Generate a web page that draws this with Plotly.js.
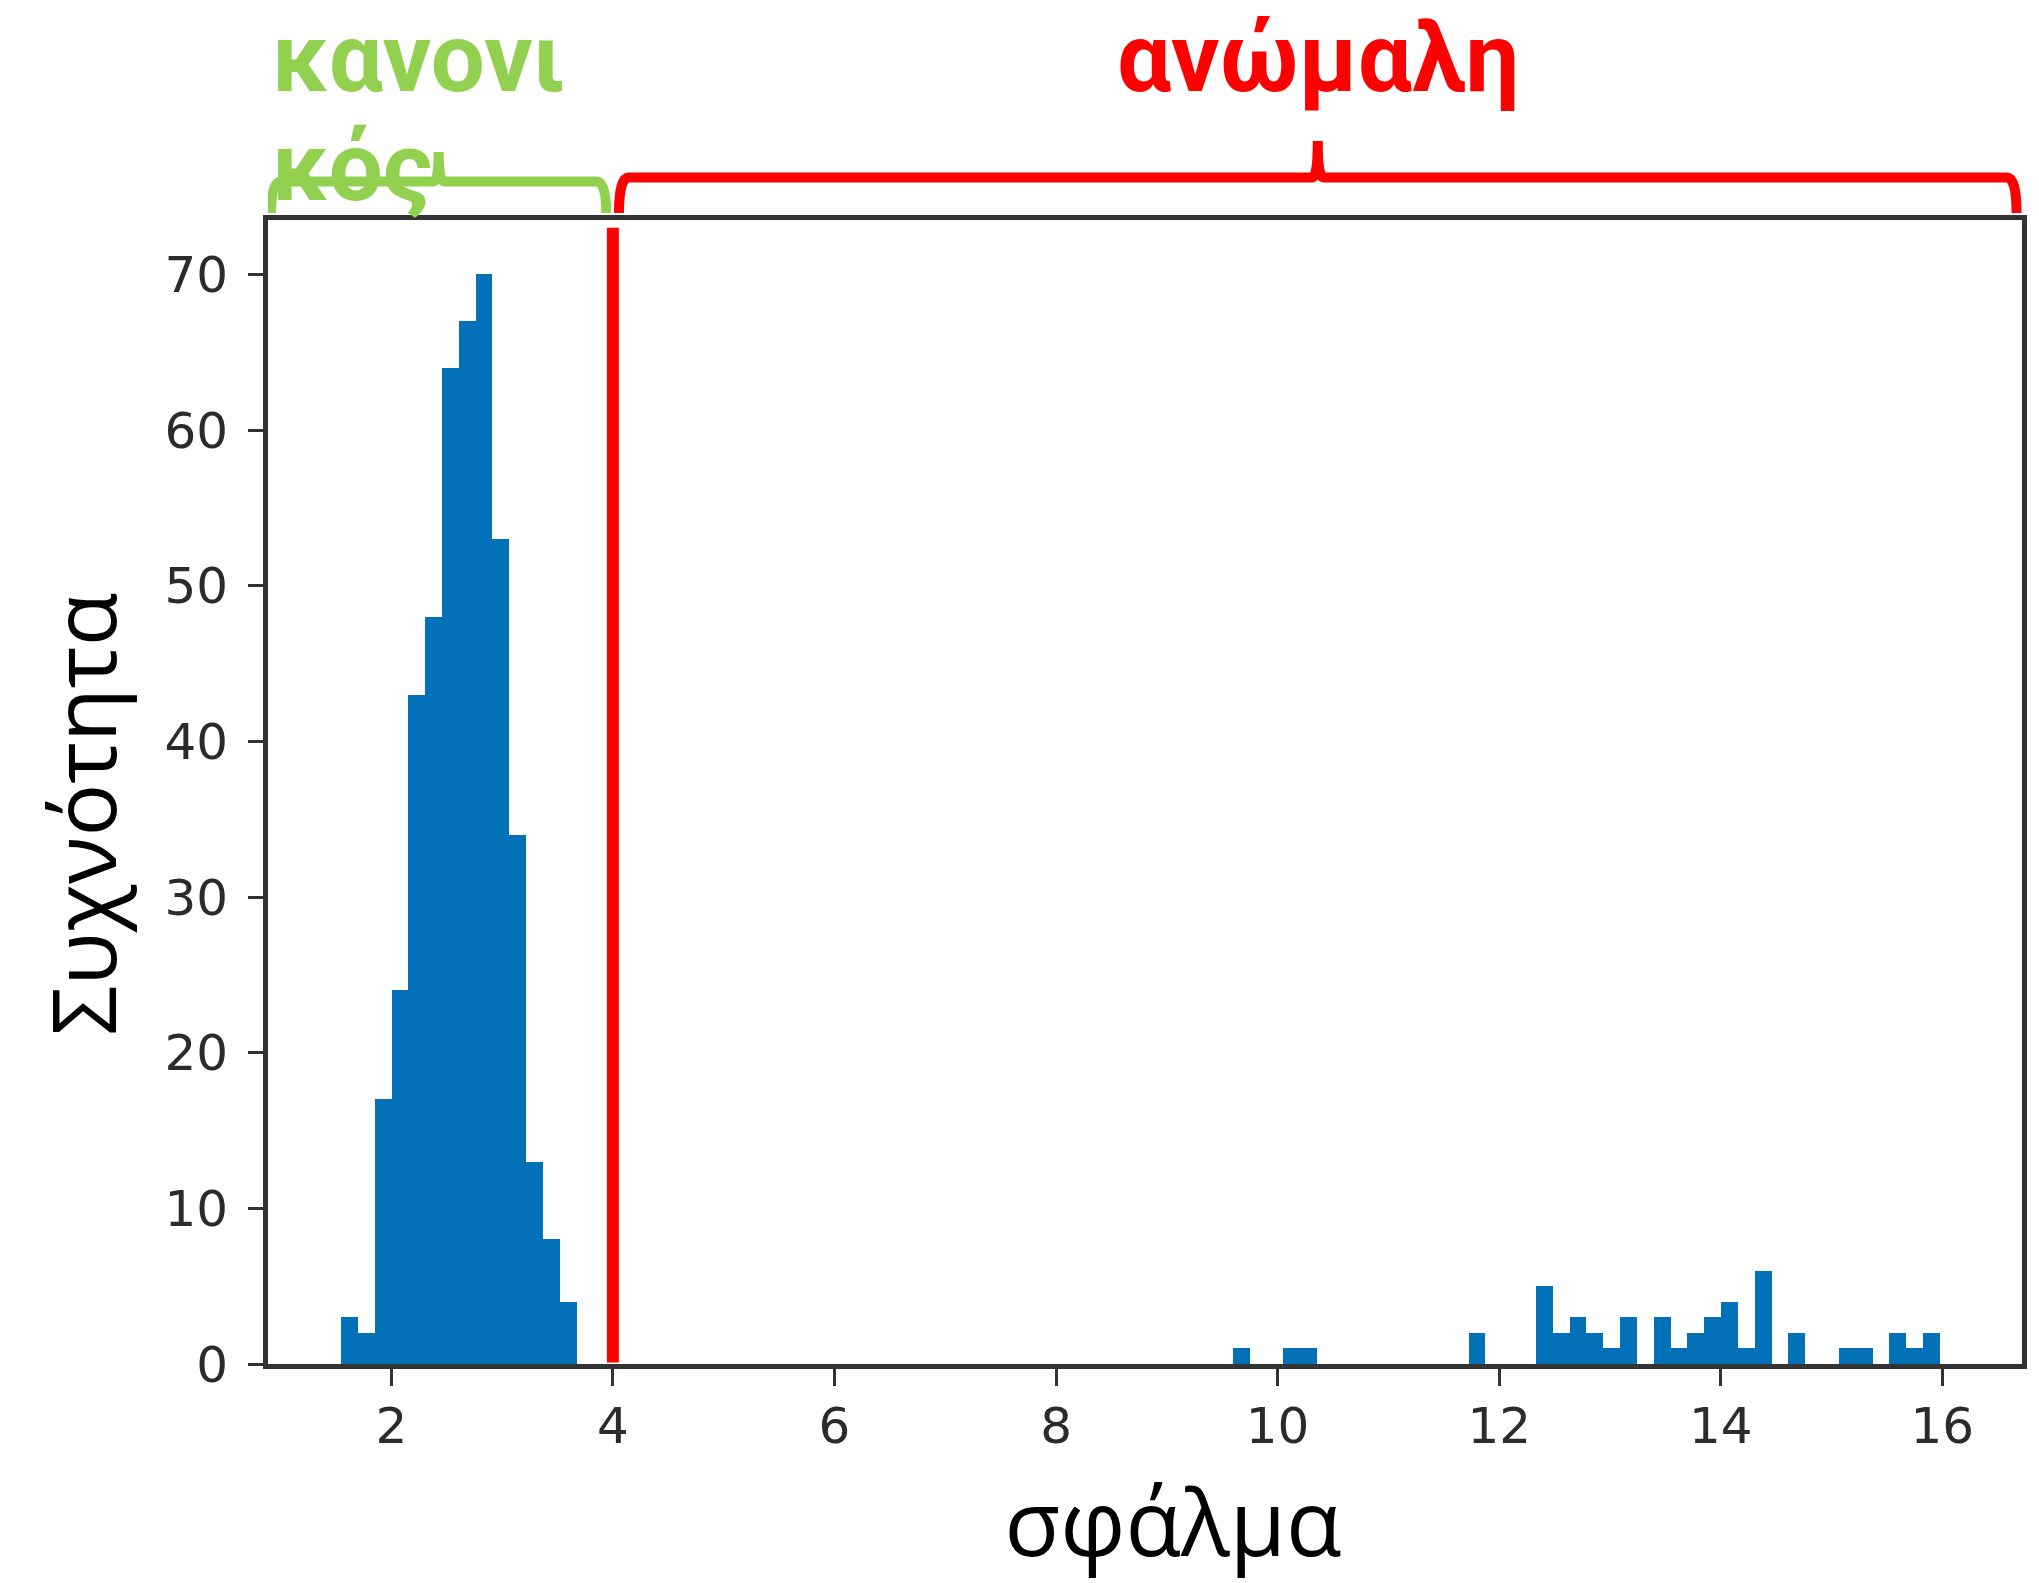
<!DOCTYPE html>
<html>
<head>
<meta charset="utf-8">
<script src="https://cdn.plot.ly/plotly-3.0.1.min.js"></script>
<style>
  html, body { margin: 0; padding: 0; background: #ffffff; }
  #chart { width: 2039px; height: 1583px; }
</style>
</head>
<body>
<div id="chart"></div>
<script>
// ---- data ----
const binStart = 1.546;          // left edge of the first bin
const binWidth = 0.15191;        // width of each bin
const binCounts = [
  3, 2, 17, 24, 43, 48, 64, 67, 70, 53, 34, 13, 8, 4,           // bins 0-13
  0, 0, 0, 0, 0, 0, 0, 0, 0, 0, 0, 0, 0, 0, 0, 0, 0, 0, 0, 0,   // bins 14-33
  0, 0, 0, 0, 0, 0, 0, 0, 0, 0, 0, 0, 0, 0, 0, 0, 0, 0, 0,      // bins 34-52
  1, 0, 0, 1, 1,                                                // bins 53-57
  0, 0, 0, 0, 0, 0, 0, 0, 0,                                    // bins 58-66
  2, 0, 0, 0,                                                   // bins 67-70
  5, 2, 3, 2, 1, 3, 0, 3, 1, 2, 3, 4, 1, 6, 0, 2,               // bins 71-86
  0, 0, 1, 1, 0, 2, 1, 2                                        // bins 87-94
];
const threshold = 4;             // red threshold line
const thresholdSpan = [0.1, 73.0];
const xTicks = [2, 4, 6, 8, 10, 12, 14, 16];
const yTicks = [0, 10, 20, 30, 40, 50, 60, 70];
const xRange = [0.887, 16.719];
const yRange = [0, 73.5];
const xLabel = 'σφάλμα';
const yLabel = 'Συχνότητα';
const normalLabelLines = ['κανονι', 'κός'];
const anomalyLabel = 'ανώμαλη';

const binCenters = binCounts.map((_, i) => binStart + (i + 0.5) * binWidth);

// ---- braces (curly brackets above the plot) ----
function bracePath(xa, xb, yBar, yTail, yTip, rx, cuspRx) {
  const xm = (xa + xb) / 2;
  return 'M ' + xa + ',' + yTail +
    ' Q ' + xa + ',' + yBar + ' ' + (xa + rx) + ',' + yBar +
    ' L ' + (xm - cuspRx) + ',' + yBar +
    ' Q ' + xm + ',' + yBar + ' ' + xm + ',' + yTip +
    ' Q ' + xm + ',' + yBar + ' ' + (xm + cuspRx) + ',' + yBar +
    ' L ' + (xb - rx) + ',' + yBar +
    ' Q ' + xb + ',' + yBar + ' ' + xb + ',' + yTail;
}
const greenBrace = [0.915, threshold - 0.06];
const redBrace = [threshold + 0.055, 16.67];

const traces = [
  {
    type: 'bar',
    x: binCenters,
    y: binCounts,
    width: binWidth,
    marker: { color: '#0271B8', line: { width: 0 } },
    hoverinfo: 'x+y',
    showlegend: false
  },
  {
    type: 'scatter',
    mode: 'lines',
    x: [threshold, threshold],
    y: thresholdSpan,
    line: { color: '#FF0000', width: 12 },
    showlegend: false,
    hoverinfo: 'skip'
  }
];

const tickFont = { family: 'DejaVu Sans, sans-serif', size: 50, color: '#2b2b2b' };
const labelFont = 'Roboto, sans-serif';

const layout = {
  width: 2039,
  height: 1583,
  margin: { l: 268, r: 17, t: 220, b: 219, pad: 0 },
  paper_bgcolor: '#ffffff',
  plot_bgcolor: '#ffffff',
  bargap: 0,
  showlegend: false,
  xaxis: {
    range: xRange,
    tickvals: xTicks,
    ticktext: xTicks.map(String),
    ticks: 'outside',
    ticklen: 17,
    tickwidth: 3,
    tickcolor: '#333333',
    tickfont: tickFont,
    ticklabelstandoff: -3,
    showline: true,
    linecolor: '#333333',
    linewidth: 5,
    mirror: true,
    showgrid: false,
    zeroline: false,
    title: { text: xLabel, font: { family: 'Open Sans, sans-serif', size: 91, color: '#000000' }, standoff: 52 }
  },
  yaxis: {
    range: yRange,
    tickvals: yTicks,
    ticktext: yTicks.map(String),
    ticks: 'outside',
    ticklen: 15,
    tickwidth: 3,
    tickcolor: '#333333',
    tickfont: tickFont,
    ticklabelstandoff: 10,
    showline: true,
    linecolor: '#333333',
    linewidth: 5,
    mirror: true,
    showgrid: false,
    zeroline: false,
    title: { text: yLabel, font: { family: 'Open Sans, sans-serif', size: 88, color: '#000000' }, standoff: 20 }
  },
  shapes: [
    {
      type: 'path', xref: 'x', yref: 'paper',
      path: bracePath(greenBrace[0], greenBrace[1], 1.0337, 1.0061, 1.0594, 0.09, 0.05),
      line: { color: '#92D050', width: 10 }, fillcolor: 'rgba(0,0,0,0)'
    },
    {
      type: 'path', xref: 'x', yref: 'paper',
      path: bracePath(redBrace[0], redBrace[1], 1.0372, 1.0061, 1.0690, 0.09, 0.05),
      line: { color: '#FF0000', width: 10 }, fillcolor: 'rgba(0,0,0,0)'
    }
  ],
  annotations: [
    {
      xref: 'paper', yref: 'paper',
      x: 0.0015, y: 1.1914, xanchor: 'left', yanchor: 'top', align: 'left', borderpad: 0,
      text: '<b>' + normalLabelLines[0] + '</b>', showarrow: false,
      font: { family: labelFont, size: 96, color: '#92D050' }
    },
    {
      xref: 'paper', yref: 'paper',
      x: 0.0015, y: 1.0460, xanchor: 'left', yanchor: 'middle', align: 'left', borderpad: 0,
      text: '<b>' + normalLabelLines[1] + '</b>', showarrow: false,
      font: { family: labelFont, size: 96, color: '#92D050' }
    },
    {
      xref: 'x', yref: 'paper',
      x: (redBrace[0] + redBrace[1]) / 2, y: 1.1914, xanchor: 'center', yanchor: 'top', borderpad: 0,
      text: '<b>' + anomalyLabel + '</b>', showarrow: false,
      font: { family: labelFont, size: 96, color: '#FF0000' }
    }
  ]
};

Plotly.newPlot('chart', traces, layout, { displayModeBar: false, staticPlot: true }).then(function (gd) {
  // the reference's axis titles sit slightly off-centre: nudge them
  const xt = gd.querySelector('.xtitle');
  if (xt) {
    const t = xt.getAttribute('transform') || '';
    xt.setAttribute('transform', 'translate(28,0) ' + t);
  }
  const yt = gd.querySelector('.ytitle');
  if (yt) {
    const t = yt.getAttribute('transform') || '';
    yt.setAttribute('transform', 'translate(0,22) ' + t);
  }
});
</script>
</body>
</html>
